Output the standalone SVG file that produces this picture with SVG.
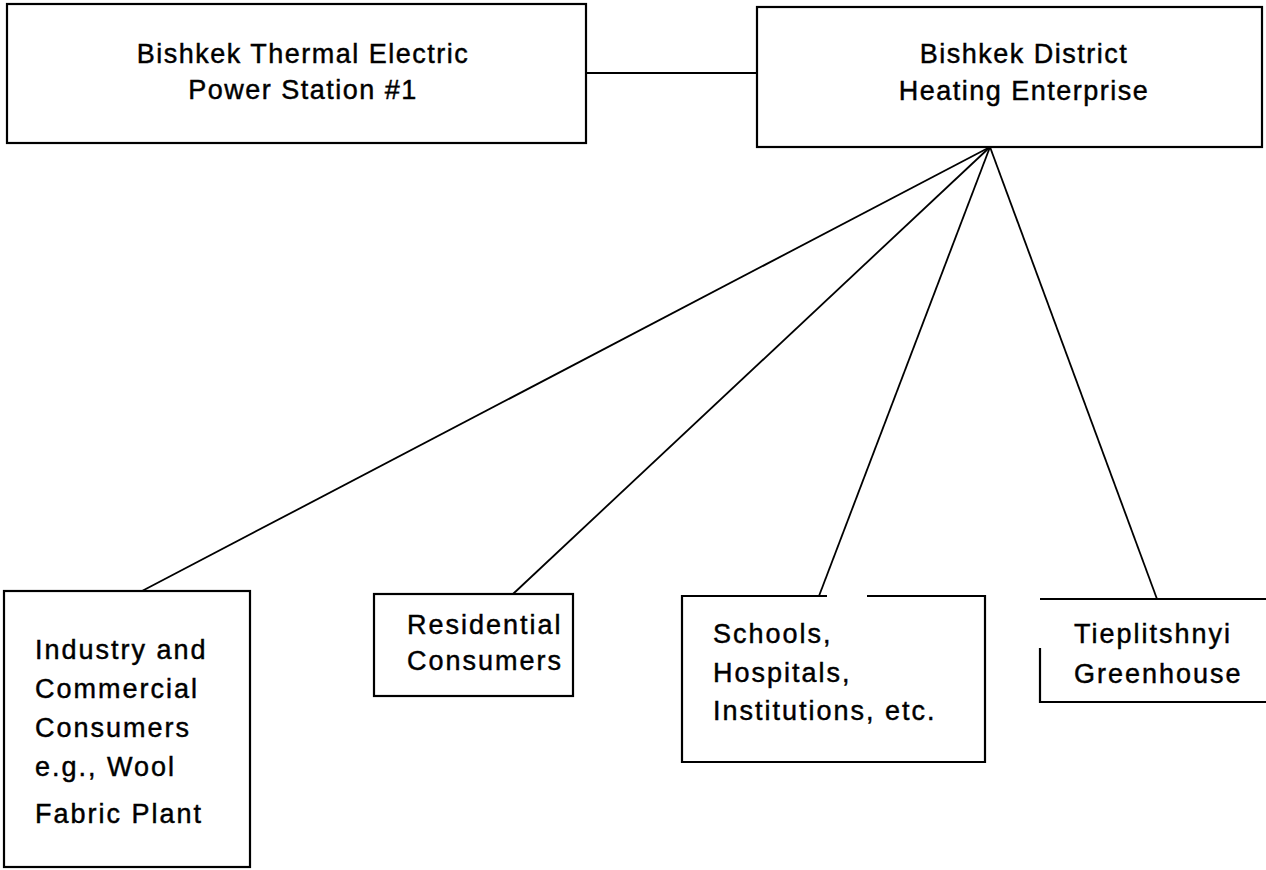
<svg xmlns="http://www.w3.org/2000/svg" width="1266" height="870" viewBox="0 0 1266 870">
<style>
.box{fill:none;stroke:#000;stroke-width:2.2}
.lbl{font-family:"Liberation Sans",Arial,sans-serif;font-size:27px;fill:#000;stroke:#000;stroke-width:0.45px;letter-spacing:1.5px}
.lbl2{font-family:"Liberation Sans",Arial,sans-serif;font-size:27px;fill:#000;stroke:#000;stroke-width:0.45px;letter-spacing:2px}
.mid{text-anchor:middle}
.conn{fill:none;stroke:#000;stroke-width:1.8}
</style>
<rect width="1266" height="870" fill="#fff"/>
<g id="connectors">
<line class="conn" x1="586" y1="73" x2="757" y2="73"/>
<line class="conn" x1="990" y1="147" x2="142" y2="591"/>
<line class="conn" x1="990" y1="147" x2="513" y2="594"/>
<line class="conn" x1="990" y1="147" x2="819" y2="596"/>
<line class="conn" x1="990" y1="147" x2="1157" y2="599"/>
</g>
<g id="power-station">
<rect class="box" x="7" y="4" width="579" height="139"/>
<text class="lbl mid" x="303" y="63">Bishkek Thermal Electric</text>
<text class="lbl mid" x="303" y="99">Power Station #1</text>
</g>
<g id="district-heating">
<rect class="box" x="757" y="7" width="505" height="140"/>
<text class="lbl mid" x="1024" y="63">Bishkek District</text>
<text class="lbl mid" x="1024" y="100">Heating Enterprise</text>
</g>
<g id="industry">
<rect class="box" x="4" y="591" width="246" height="276"/>
<text class="lbl2" x="35" y="659">Industry and</text>
<text class="lbl2" x="35" y="698">Commercial</text>
<text class="lbl2" x="35" y="737">Consumers</text>
<text class="lbl2" x="35" y="776">e.g., Wool</text>
<text class="lbl2" x="35" y="823">Fabric Plant</text>
</g>
<g id="residential">
<rect class="box" x="374" y="594" width="199" height="102"/>
<text class="lbl2" x="407" y="634">Residential</text>
<text class="lbl2" x="407" y="670">Consumers</text>
</g>
<g id="schools">
<path class="box" d="M827,596 H682 V762 H985 V596 H867"/>
<text class="lbl2" x="713" y="643">Schools,</text>
<text class="lbl2" x="713" y="682">Hospitals,</text>
<text class="lbl2" x="713" y="720">Institutions, etc.</text>
</g>
<g id="greenhouse">
<path class="box" d="M1040,599 H1268 M1040,648 V702 H1268"/>
<text class="lbl2" x="1074" y="643">Tieplitshnyi</text>
<text class="lbl2" x="1074" y="683">Greenhouse</text>
</g>
</svg>
